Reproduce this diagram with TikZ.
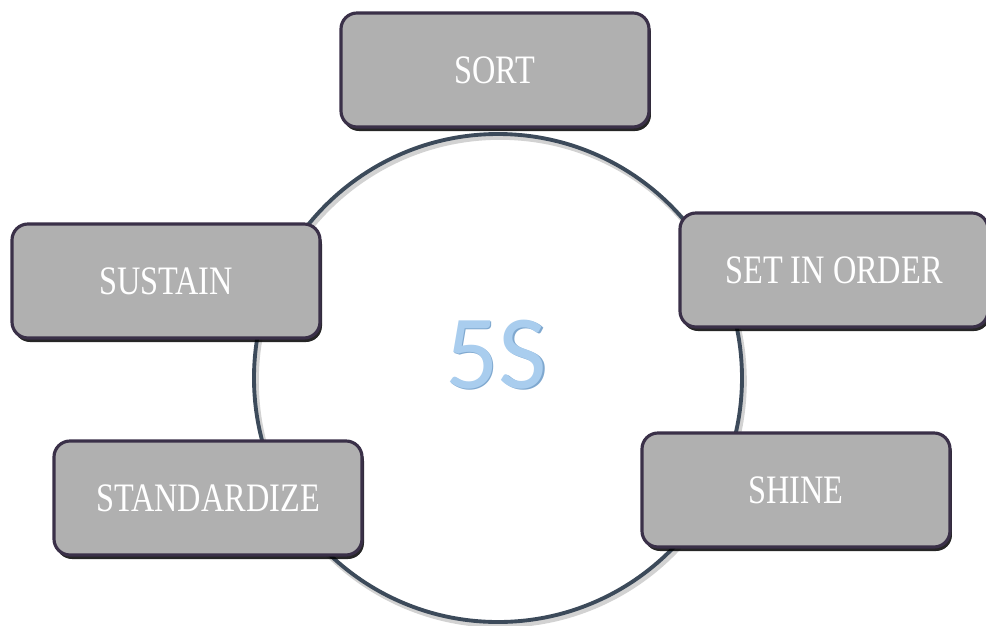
\documentclass[tikz,border=0pt]{standalone}
\usepackage{fontspec}
\setmainfont{Liberation Serif}
\newfontfamily\boxfont[FakeStretch=0.8]{Liberation Serif}
\newfontfamily\numfont{Carlito}
\usepackage{xcolor}
\usepackage{tikz}
\usetikzlibrary{shapes,positioning,calc,shadows}

\definecolor{boxgray}{HTML}{B0B0B0}
\definecolor{boxedge}{HTML}{3A3048}
\definecolor{ringline}{HTML}{3C4A5A}
\definecolor{fivefill}{HTML}{A9CDEE}
\definecolor{fiveedge}{HTML}{7FA8CF}

\tikzset{
  sbox/.style={rectangle, rounded corners=0.16cm, draw=boxedge, line width=0.9pt,
    fill=boxgray, minimum width=3.08cm, minimum height=1.14cm,
    text=white, font=\boxfont\fontsize{11.5}{13}\selectfont,
    drop shadow={shadow xshift=0.02cm, shadow yshift=-0.04cm, fill=black, opacity=0.85}},
  ringstyle/.style={circle, minimum size=4.88cm, inner sep=0pt},
  fivestyle/.style={font=\numfont\fontsize{30}{34}\selectfont},
}

\begin{document}
\begin{tikzpicture}[auto, >=latex, thick]
   \useasboundingbox (0,0) rectangle (9.86,6.25);

   % Ring behind the boxes, with a faint shadow
   \node[ringstyle, draw=gray!35, line width=1.6pt] (ringshade) at (5.00,2.44) {};
   \node[ringstyle, draw=ringline, line width=1.1pt] (ring) at (4.98,2.47) {};

   % Centre label
   \node[fivestyle, text=fiveedge] (fiveshade) at (4.975,2.69) {5S};
   \node[fivestyle, text=fivefill] (five) at (4.96,2.70) {5S};

   % The five steps
   \node[sbox] (sort) at (4.95,5.55) {SORT};
   \node[sbox] (order) at (8.34,3.55) {SET IN ORDER};
   \node[sbox] (sustain) at (1.66,3.44) {SUSTAIN};
   \node[sbox] (standard) at (2.08,1.27) {STANDARDIZE};
   \node[sbox] (shine) at (7.96,1.35) {SHINE};
\end{tikzpicture}
\end{document}
